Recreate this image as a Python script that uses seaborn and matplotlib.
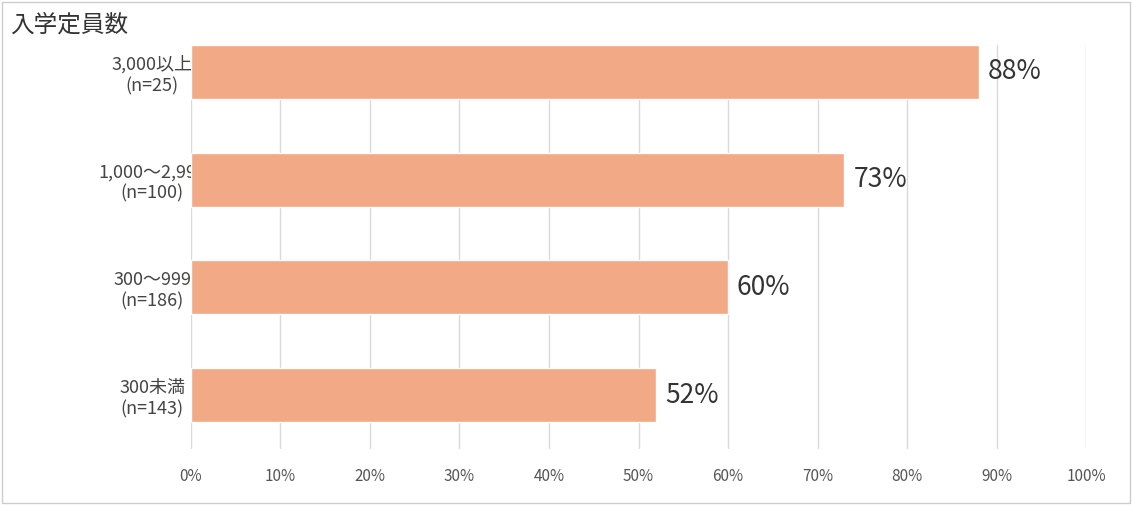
import matplotlib
matplotlib.use("Agg")
import matplotlib.pyplot as plt
import seaborn as sns
import pandas as pd

categories = ["3,000以上\n(n=25)", "1,000～2,999\n(n=100)", "300～999\n(n=186)", "300未満\n(n=143)"]
values = [88, 73, 60, 52]
ticks = list(range(0, 101, 10))

sns.set_theme(style="white")
plt.rcParams['font.family'] = ['Noto Sans CJK JP', 'DejaVu Sans']

df = pd.DataFrame({"cat": categories, "val": values})
fig = plt.figure(figsize=(11.32, 5.05), dpi=100)
ax = fig.add_axes([0.1687, 0.111, 0.7907, 0.80])
sns.barplot(data=df, x="val", y="cat", color="#F2A985", saturation=1, width=0.5, ax=ax, zorder=3)

for i, v in enumerate(values):
    ax.text(v + 1, i, f"{v}%", va="center", ha="left", fontsize=19, color="#333333")

ax.set_xlim(0, 100)
ax.set_ylim(3.5, -0.25)
ax.set_xticks(ticks)
ax.set_xticklabels([f"{t}%" for t in ticks], fontsize=11, color="#555555")
ax.tick_params(axis="y", labelsize=13, labelcolor="#444444", length=0, pad=28)
ax.tick_params(axis="x", length=0, pad=14)
for lab in ax.get_yticklabels():
    lab.set_horizontalalignment("center")
ax.grid(axis="x", color="#d9d9d9", linewidth=1, zorder=0)
ax.set_xlabel("")
ax.set_ylabel("")
for s in ax.spines.values():
    s.set_visible(False)

fig.text(0.009, 0.95, "入学定員数", fontsize=17, color="#333333", va="center", ha="left")
fig.patches.append(plt.Rectangle((0.002, 0.004), 0.996, 0.992, transform=fig.transFigure,
                                 fill=False, edgecolor="#cccccc", linewidth=1))
fig.savefig("out.png", dpi=100)
